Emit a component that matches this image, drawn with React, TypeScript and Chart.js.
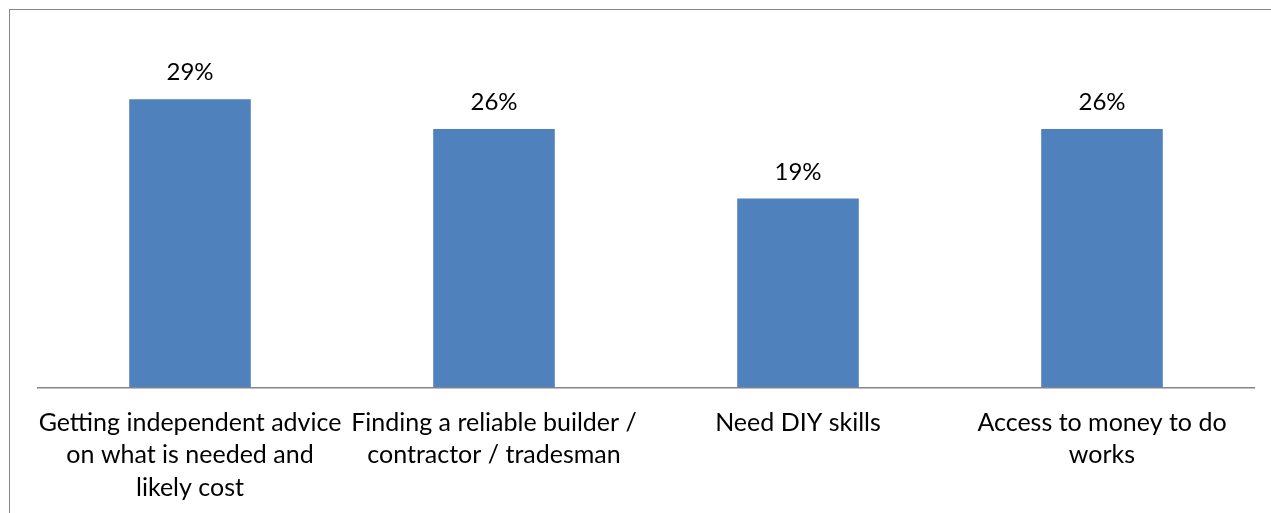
import React, { useEffect, useRef } from "react";
import { Chart, registerables } from "chart.js";

Chart.register(...registerables);

const categories: string[][] = [
  ["Getting independent advice", "on what is needed and", "likely cost"],
  ["Finding a reliable builder /", "contractor / tradesman"],
  ["Need DIY skills"],
  ["Access to money to do", "works"],
];
const values: number[] = [29, 26, 19, 26];
const valueLabels: string[] = ["29%", "26%", "19%", "26%"];

const FONT = "Lato, 'Open Sans', sans-serif";

const labelPlugin = {
  id: "barLabels",
  afterDatasetsDraw(chart: any) {
    const ctx = chart.ctx;
    const meta = chart.getDatasetMeta(0);
    ctx.save();
    ctx.font = `24px ${FONT}`;
    ctx.fillStyle = "#000";
    ctx.textAlign = "center";
    ctx.textBaseline = "alphabetic";
    meta.data.forEach((bar: any, i: number) => {
      ctx.fillText(valueLabels[i], bar.x, bar.y - 19);
    });
    ctx.restore();
  },
};

export default function App() {
  const ref = useRef<HTMLCanvasElement>(null);
  useEffect(() => {
    if (!ref.current) return;
    const chart = new Chart(ref.current, {
      type: "bar",
      data: {
        labels: categories,
        datasets: [
          {
            data: values,
            backgroundColor: "#4F81BD",
            barPercentage: 0.4,
            categoryPercentage: 1,
          },
        ],
      },
      options: {
        responsive: false,
        animation: false,
        layout: { padding: { left: 38, right: 17, top: 39.5, bottom: 0 } },
        plugins: { legend: { display: false }, tooltip: { enabled: false } },
        scales: {
          y: { display: false, min: 0, max: 35 },
          x: {
            grid: { display: false, drawTicks: false },
            border: { display: true, color: "#868686", width: 1.5 },
            ticks: {
              color: "#000",
              font: { family: FONT, size: 25, lineHeight: 1.3 },
              padding: 19,
              maxRotation: 0,
              autoSkip: false,
            },
            afterFit: (scale: any) => {
              scale.height = 125.5;
            },
          },
        },
      },
      plugins: [labelPlugin],
    });
    return () => chart.destroy();
  }, []);
  return (
    <div
      style={{
        position: "absolute",
        left: 0,
        top: 0,
        width: 1271,
        height: 513,
        overflow: "hidden",
        background: "#fff",
      }}
    >
      <div
        style={{
          position: "absolute",
          left: 9,
          top: 9,
          width: 1400,
          height: 700,
          border: "1.5px solid #878787",
        }}
      />
      <canvas
        ref={ref}
        width={1271}
        height={513}
        style={{ position: "absolute", left: 0, top: 0 }}
      />
    </div>
  );
}
